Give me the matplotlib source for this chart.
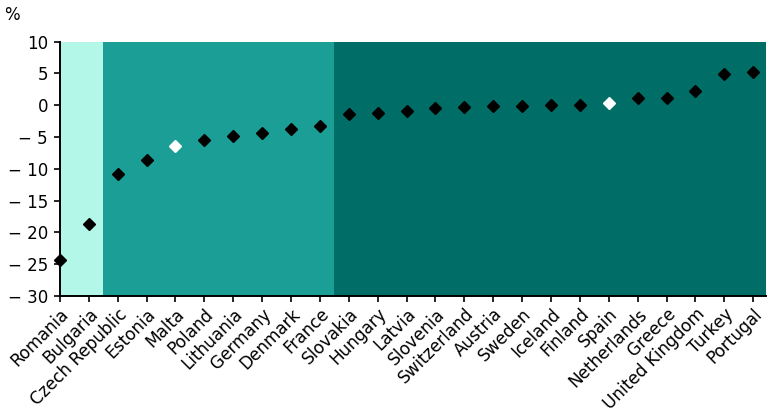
import matplotlib
matplotlib.use("Agg")
import matplotlib.pyplot as plt

countries = ["Romania", "Bulgaria", "Czech Republic", "Estonia", "Malta", "Poland",
             "Lithuania", "Germany", "Denmark", "France", "Slovakia", "Hungary",
             "Latvia", "Slovenia", "Switzerland", "Austria", "Sweden", "Iceland",
             "Finland", "Spain", "Netherlands", "Greece", "United Kingdom", "Turkey",
             "Portugal"]
values = [-24.4, -18.7, -10.75, -8.55, -6.4, -5.4, -4.9, -4.35, -3.7, -3.25,
          -1.3, -1.15, -0.84, -0.42, -0.26, -0.1, -0.1, 0.0, 0.0, 0.37,
          1.15, 1.15, 2.25, 4.98, 5.24]
highlight = ["Malta", "Spain"]
yticks = [10, 5, 0, -5, -10, -15, -20, -25, -30]
ytick_labels = ["10", "5", "0", "\u2212 5", "\u2212 10", "\u2212 15", "\u2212 20", "\u2212 25", "\u2212 30"]

fig = plt.figure(figsize=(7.68, 4.19), dpi=100)
ax = fig.add_axes([0.078, 0.2936, 0.919, 0.6069])

n = len(countries)
x = list(range(n))
ax.axvspan(0, 1.5, color="#b3f7e8", lw=0, zorder=0)
ax.axvspan(1.5, 9.5, color="#1a9e96", lw=0, zorder=0)
ax.axvspan(9.5, n, color="#006e67", lw=0, zorder=0)

for xi, c, v in zip(x, countries, values):
    fc = "white" if c in highlight else "black"
    ax.plot(xi, v, marker="D", ms=6.5, color=fc, mec=fc, ls="none", zorder=3, clip_on=False)

ax.set_xlim(0, 24.43)
ax.set_ylim(-30, 10)
ax.set_yticks(yticks)
ax.set_yticklabels(ytick_labels, fontsize=12)
ax.set_xticks(x)
ax.set_xticklabels(countries, rotation=45, ha="right", rotation_mode="anchor", fontsize=12.2)
ax.tick_params(axis="both", direction="out", length=4.5, width=1.2, color="black")
ax.tick_params(axis="y", pad=4)
ax.tick_params(axis="x", pad=2)
for s in ["top", "right"]:
    ax.spines[s].set_visible(False)
for s in ["left", "bottom"]:
    ax.spines[s].set_linewidth(1.4)
    ax.spines[s].set_zorder(4)

fig.text(0.005, 0.965, "%", fontsize=12, ha="left", va="center")

fig.savefig("out.png", dpi=100)
